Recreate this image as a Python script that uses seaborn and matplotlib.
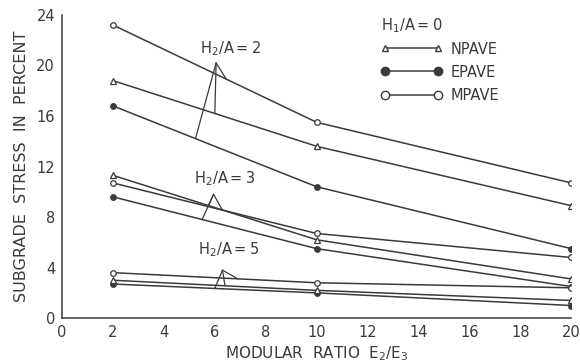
import numpy as np
import pandas as pd
import matplotlib.pyplot as plt
import seaborn as sns
from matplotlib.lines import Line2D

# modular ratio E2/E3
ratio = [2, 10, 20]

# subgrade stress in percent
npave_2 = [18.8, 13.6, 8.9]
epave_2 = [16.8, 10.4, 5.5]
mpave_2 = [23.2, 15.5, 10.7]

npave_3 = [11.3, 6.2, 3.1]
epave_3 = [9.6, 5.5, 2.5]
mpave_3 = [10.7, 6.7, 4.8]

npave_5 = [3.0, 2.2, 1.4]
epave_5 = [2.7, 2.0, 1.0]
mpave_5 = [3.6, 2.8, 2.4]

series = {
    ('NPAVE', 2): npave_2, ('EPAVE', 2): epave_2, ('MPAVE', 2): mpave_2,
    ('NPAVE', 3): npave_3, ('EPAVE', 3): epave_3, ('MPAVE', 3): mpave_3,
    ('NPAVE', 5): npave_5, ('EPAVE', 5): epave_5, ('MPAVE', 5): mpave_5,
}

rows = []
for (pave, depth), vals in series.items():
    for r, v in zip(ratio, vals):
        rows.append({'ratio': r, 'stress': v, 'pave': pave, 'depth': depth})
df = pd.DataFrame(rows)

ink = '#3a3a3a'
styles = {
    'NPAVE': dict(marker='^', markerfacecolor='white', markersize=4),
    'EPAVE': dict(marker='o', markerfacecolor=ink, markersize=4),
    'MPAVE': dict(marker='o', markerfacecolor='white', markersize=4),
}

sns.set_style('white')
plt.rcParams['font.family'] = ['DejaVu Sans']

fig = plt.figure(figsize=(5.8, 3.64), dpi=100)
ax = fig.add_axes([0.107, 0.126, 0.878, 0.833])

for (pave, depth), grp in df.groupby(['pave', 'depth']):
    sns.lineplot(data=grp, x='ratio', y='stress', ax=ax, color=ink, lw=1.1,
                 markeredgecolor=ink, markeredgewidth=0.9, legend=False,
                 **styles[pave])

ax.set_xlim(0, 20)
ax.set_ylim(0, 24)
ax.set_xticks(range(0, 21, 2))
ax.set_yticks(range(0, 25, 4))
ax.tick_params(direction='in', length=4, color=ink, labelsize=10.5, labelcolor=ink, pad=5)
sns.despine(ax=ax)
for s in ['left', 'bottom']:
    ax.spines[s].set_color(ink)
    ax.spines[s].set_linewidth(1.1)
ax.set_xlabel(r'MODULAR  RATIO  $\mathregular{E_2/E_3}$', fontsize=11, color=ink, labelpad=3)
ax.set_ylabel('SUBGRADE  STRESS  IN  PERCENT', fontsize=11.5, color=ink, labelpad=5)


def on_line(pave, depth, x):
    # point on the drawn line of one series, for the leader lines
    return (x, float(np.interp(x, ratio, series[(pave, depth)])))


# group labels with leader lines
notes = [
    (2, (5.4, 20.6), (6.05, 20.2), [('EPAVE', 5.24), ('NPAVE', 6.0), ('MPAVE', 6.45)]),
    (3, (5.2, 10.3), (5.95, 9.8), [('EPAVE', 5.5), ('NPAVE', 5.75), ('MPAVE', 6.3)]),
    (5, (5.35, 4.7), (6.3, 3.8), [('EPAVE', 6.0), ('NPAVE', 6.4), ('MPAVE', 6.9)]),
]
for depth, tpos, apex, ends in notes:
    ax.text(tpos[0], tpos[1], r'$\mathregular{H_2/A = %d}$' % depth, fontsize=10.5, color=ink, va='bottom')
    for pave, x in ends:
        ax.annotate('', xy=on_line(pave, depth, x), xytext=apex,
                    arrowprops=dict(arrowstyle='-', color=ink, lw=0.9,
                                    shrinkA=0, shrinkB=0))

handles = [Line2D([], [], color=ink, lw=1.1, markeredgecolor=ink, **dict(styles[p], markersize=5 if p == 'NPAVE' else 6))
           for p in ['NPAVE', 'EPAVE', 'MPAVE']]
leg = ax.legend(handles, ['NPAVE', 'EPAVE', 'MPAVE'], title=r'$\mathregular{H_1/A = 0}$',
                loc='upper left', bbox_to_anchor=(0.6, 1.04), frameon=False,
                numpoints=2, handlelength=4.2, fontsize=10.5, title_fontsize=10.5,
                labelspacing=0.55, handletextpad=0.6, labelcolor=ink)
leg._legend_box.align = 'left'
leg._legend_box.sep = 5
leg.get_title().set_color(ink)

fig.savefig('out.png', dpi=100)
